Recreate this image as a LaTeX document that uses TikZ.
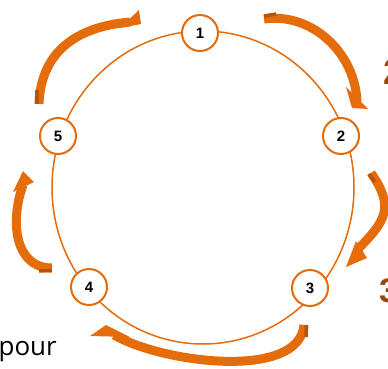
\documentclass[tikz,border=0pt]{standalone}
\usepackage{fontspec}
\setmainfont{Liberation Sans}
\newfontfamily\openfont{Open Sans}
\usetikzlibrary{positioning}
\definecolor{ringorange}{HTML}{E46C0A}
\definecolor{bendshade}{HTML}{B4550A}
\definecolor{stepbrown}{HTML}{984807}
\tikzset{numdisc/.style={circle, draw=ringorange, line width=2pt, fill=white, minimum size=36pt, inner sep=0pt, font=\fontsize{15}{15}\selectfont\bfseries},
bigbend/.style={draw=ringorange, line width=9pt},
bendtail/.style={draw=bendshade, line width=3.5pt},
bendhead/.style={fill=ringorange}}

\begin{document}
\begin{tikzpicture}[x=1pt,y=1pt]
\useasboundingbox (0,0) rectangle (388,368);
\draw[ringorange, line width=1.5pt] (203,180.5) ellipse [x radius=151, y radius=156.5];
\foreach \n/\x/\y in {1/200/335, 2/341/232, 3/310/80, 4/89/81, 5/58/232} {
\node (n\n) at (\x,\y) [numdisc] {\n};
}
% arrows round the ring
\coordinate (t51) at (39,264); \coordinate (h51) at (130,346);
\draw[bigbend] (t51) to[out=88, in=185, looseness=1.1] (h51);
\fill[bendhead] (120,340) -- (139,358) -- (141,344) -- cycle;
\draw[bendtail] (37,264) -- (37,278);
\coordinate (t12) at (264,349); \coordinate (h12) at (357,266);
\draw[bigbend] (t12) to[out=8, in=92] (h12);
\fill[bendhead] (346,281) -- (368,259) -- (352,260) -- cycle;
\draw[bendtail] (264,352) -- (276,354);
\coordinate (t23) at (371,195); \coordinate (h23) at (357,118);
\draw[bigbend] (t23) to[out=-55, in=45, looseness=1.35] (h23);
\fill[bendhead] (356,127) -- (367,110) -- (346,101) -- cycle;
\draw[bendtail] (369,194) -- (375,186);
\coordinate (t34) at (304,43); \coordinate (h34) at (114,33);
\draw[bigbend] (t34) to[out=-95, in=-30, looseness=0.75] (h34);
\fill[bendhead] (106,43) -- (90,32) -- (130,31) -- cycle;
\draw[bendtail] (306.5,43) -- (306,31);
\coordinate (t45) at (52,100); \coordinate (h45) at (23,183);
\draw[bigbend] (t45) to[out=180, in=250, looseness=1.1] (h45);
\fill[bendhead] (13,176) -- (34,186) -- (23,197) -- cycle;
\draw[bendtail] (52,97.5) -- (39,97);
% cut-off texts at the edges
\node (pourtxt) at (57,13) [anchor=base east, inner sep=0pt, font=\openfont\fontsize{26}{26}\selectfont] {pour};
\node (lbl2) at (383.5,284) [anchor=base west, inner sep=0pt, text=stepbrown, font=\fontsize{36}{36}\selectfont\bfseries] {2};
\node (lbl3) at (379,66) [anchor=base west, inner sep=0pt, text=stepbrown, font=\fontsize{34}{34}\selectfont\bfseries] {3};
\end{tikzpicture}
\end{document}
